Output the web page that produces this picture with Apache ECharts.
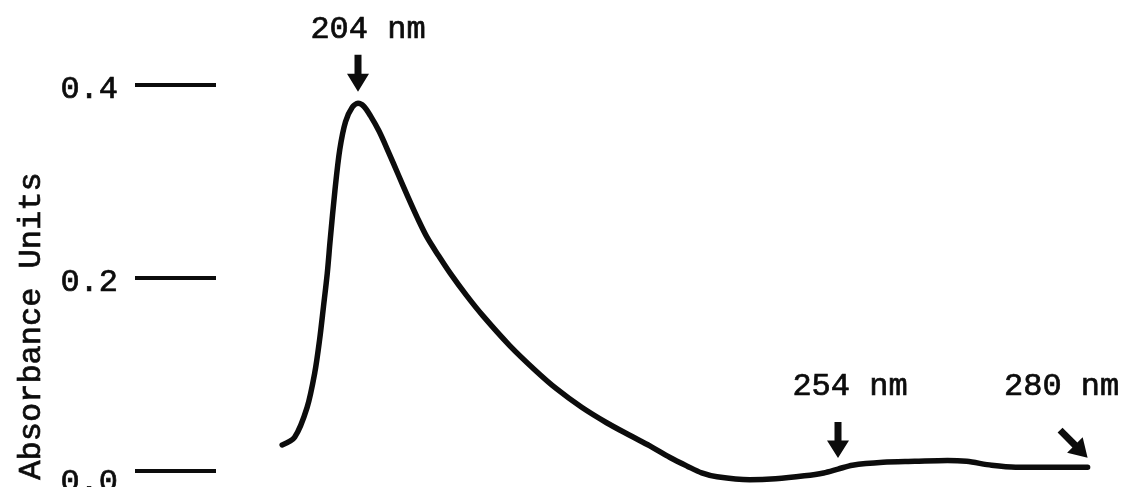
<!DOCTYPE html>
<html>
<head>
<meta charset="utf-8">
<title>Absorbance spectrum</title>
<script src="https://cdn.jsdelivr.net/npm/echarts@6/dist/echarts.min.js"></script>
<style>
  html, body { margin: 0; padding: 0; background: #ffffff; }
  #chart { width: 1123px; height: 487px; }
</style>
</head>
<body>
<div id="chart"></div>
<script>
// UV absorbance trace: wavelength (nm) against absorbance units
const wavelength = [
  196.1, 197.4, 198.7, 199.5, 200.0, 200.4, 200.8, 201.1, 201.6, 202.1,
  202.7, 203.4, 204.0, 204.6, 205.3, 206.2, 207.2, 208.2, 209.2, 210.2,
  211.2, 212.4, 213.6, 215.3, 217.0, 219.8, 222.4, 224.7, 227.3, 229.9,
  232.3, 234.4, 236.5, 238.3, 239.8, 241.4, 244.8, 247.5, 250.5, 252.5,
  254.0, 255.5, 258.7, 262.0, 265.4, 267.4, 270.0, 272.5, 276.0, 280.0
];
const absorbance = [
  0.027, 0.035, 0.066, 0.102, 0.136, 0.170, 0.205, 0.239, 0.291, 0.333,
  0.362, 0.377, 0.381, 0.378, 0.368, 0.352, 0.330, 0.307, 0.284, 0.262,
  0.242, 0.223, 0.205, 0.182, 0.161, 0.130, 0.105, 0.085, 0.066, 0.050,
  0.037, 0.026, 0.014, 0.005, -0.002, -0.006, -0.009, -0.008, -0.005, -0.002,
  0.002, 0.006, 0.009, 0.010, 0.011, 0.010, 0.006, 0.004, 0.004, 0.004
];
const yTickValues = [0.0, 0.2, 0.4];
const markedWavelengths = [204, 254, 280];

// typewriter-style lettering
const FONT = '"Liberation Mono", "Courier New", monospace';
const INK = '#0c0c0c';
const TYPE = {
  color: INK,
  fontFamily: FONT,
  fontSize: 32,
  textBorderColor: INK,
  textBorderWidth: 0.7
};

// arrow glyphs drawn next to the marked wavelengths
const ARROW_DOWN = 'path://M7.5,0 L14.5,0 L14.5,19 L22,19 L11,37 L0,19 L7.5,19 Z';
const ARROW_DIAG = 'path://M4.97,0.03 L19.77,14.83 L25.08,9.52 L30,30 L9.52,25.08 L14.83,19.77 L0.03,4.97 Z';
const markerLayout = [
  { symbol: ARROW_DOWN, size: [22, 37], arrowShift: [0, -30],     textShift: [10, -44] },
  { symbol: ARROW_DOWN, size: [22, 36], arrowShift: [0, -29],     textShift: [12, -54] },
  { symbol: ARROW_DIAG, size: [30, 30], arrowShift: [-15, -24.5], textShift: [-11, -56] }
];

const curve = wavelength.map((w, i) => [w, absorbance[i]]);

const markers = markedWavelengths.map((nm, k) => {
  const idx = wavelength.indexOf(nm);
  const lay = markerLayout[k];
  return {
    value: [nm, absorbance[idx]],
    symbol: lay.symbol,
    symbolSize: lay.size,
    symbolOffset: lay.arrowShift,
    label: { offset: lay.textShift }
  };
});

const chart = echarts.init(document.getElementById('chart'), null, { renderer: 'canvas' });

chart.setOption({
  animation: false,
  backgroundColor: '#ffffff',
  grid: {
    left: 223.6, right: 35.4, top: 85, bottom: 16,
    containLabel: false,
    outerBoundsMode: 'none'
  },
  xAxis: {
    type: 'value',
    min: 190,
    max: 280,
    show: false
  },
  yAxis: {
    type: 'value',
    min: yTickValues[0],
    max: yTickValues[yTickValues.length - 1],
    interval: 0.2,
    offset: 7.6,
    axisLine: { show: false },
    splitLine: { show: false },
    axisTick: {
      show: true,
      inside: false,
      length: 81,
      lineStyle: { color: INK, width: 4 }
    },
    axisLabel: Object.assign({}, TYPE, {
      show: true,
      margin: 98,
      verticalAlign: 'top',
      lineHeight: 10,
      // the baseline label sits a little lower under its tick
      formatter: v => (v === 0 ? '{low|' + v.toFixed(1) + '}' : v.toFixed(1)),
      rich: { low: Object.assign({}, TYPE, { lineHeight: 24 }) }
    }),
    name: 'Absorbance Units',
    nameLocation: 'middle',
    nameRotate: 90,
    nameGap: 168,
    nameTextStyle: Object.assign({}, TYPE, { padding: [0, 96, 0, 0] })
  },
  series: [
    {
      type: 'line',
      data: curve,
      showSymbol: false,
      smooth: 0.3,
      clip: false,
      lineStyle: { color: INK, width: 5.5, cap: 'round', join: 'round' }
    },
    {
      type: 'scatter',
      data: markers,
      clip: false,
      itemStyle: { color: INK, opacity: 1 },
      label: Object.assign({}, TYPE, {
        show: true,
        position: 'inside',
        formatter: p => p.value[0] + ' nm'
      }),
      emphasis: { disabled: true }
    }
  ]
});
</script>
</body>
</html>
